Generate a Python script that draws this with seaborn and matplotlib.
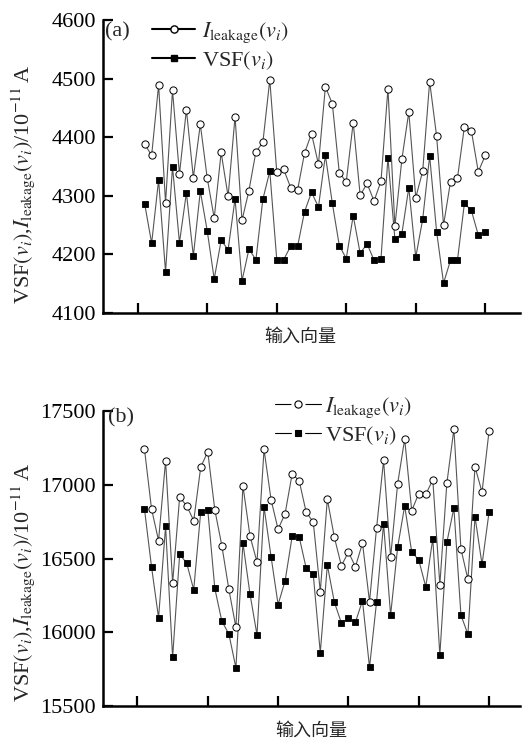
import matplotlib
matplotlib.use("Agg")
import matplotlib.pyplot as plt
from matplotlib.lines import Line2D
from matplotlib.legend_handler import HandlerTuple
import seaborn as sns
import pandas as pd

# ---------------- data ----------------
x_vals = list(range(1, 51))
x_ticks = [0, 10, 20, 30, 40, 50]

ileak_a = [4388, 4369, 4489, 4288, 4480, 4337, 4447, 4331, 4422, 4330,
           4262, 4374, 4299, 4435, 4258, 4309, 4375, 4391, 4498, 4341,
           4345, 4314, 4310, 4373, 4406, 4354, 4486, 4457, 4339, 4324,
           4425, 4301, 4321, 4291, 4325, 4483, 4248, 4362, 4443, 4297,
           4342, 4495, 4402, 4250, 4324, 4330, 4418, 4411, 4341, 4369]
vsf_a = [4286, 4219, 4327, 4170, 4350, 4220, 4305, 4197, 4308, 4240,
         4158, 4224, 4208, 4295, 4155, 4209, 4191, 4294, 4342, 4191,
         4191, 4214, 4214, 4273, 4306, 4281, 4369, 4287, 4215, 4193,
         4266, 4202, 4218, 4190, 4193, 4365, 4226, 4235, 4314, 4195,
         4260, 4368, 4239, 4151, 4190, 4190, 4287, 4275, 4233, 4239]

ileak_b = [17240, 16837, 16621, 17163, 16335, 16916, 16857, 16757, 17120, 17224,
           16830, 16587, 16290, 16034, 16993, 16653, 16476, 17240, 16898, 16698,
           16805, 17075, 17027, 16812, 16748, 16276, 16902, 16644, 16451, 16544,
           16444, 16605, 16208, 16705, 17165, 16508, 17007, 17310, 16825, 16939,
           16934, 17034, 16322, 17011, 17378, 16565, 16358, 17122, 16950, 17365]
vsf_b = [16834, 16444, 16097, 16718, 15830, 16528, 16469, 16288, 16818, 16830,
         16297, 16075, 15988, 15759, 16605, 16260, 15982, 16850, 16512, 16188,
         16349, 16650, 16646, 16433, 16392, 15861, 16456, 16204, 16063, 16095,
         16068, 16215, 15762, 16204, 16735, 16116, 16576, 16857, 16544, 16490,
         16308, 16635, 15844, 16610, 16843, 16116, 15986, 16784, 16460, 16814]

yticks_a = [4100, 4200, 4300, 4400, 4500, 4600]
yticks_b = [15500, 16000, 16500, 17000, 17500]

label_ileak = r"$I_{\mathrm{leakage}}(v_i)$"
label_vsf = r"VSF$(v_i)$"
ylabel = r"VSF$(v_i)$,$I_{\mathrm{leakage}}(v_i)$/10$^{-11}\,$A"
xlabel = "输入向量"
panel_a = "(a)"
panel_b = "(b)"

# ---------------- style ----------------
sns.set_style("ticks")
plt.rcParams["font.family"] = ["Liberation Serif", "Noto Sans CJK SC"]
plt.rcParams["mathtext.fontset"] = "stix"
plt.rcParams["font.size"] = 16

fig = plt.figure(figsize=(5.28, 7.44), dpi=100)
W, H = 528, 744
ax_a = fig.add_axes([103 / W, 1 - 313 / H, 417 / W, 293 / H])
ax_b = fig.add_axes([103 / W, 1 - 706 / H, 417 / W, 295 / H])

line_col = "#555555"
MS_O, MS_S = 5.2, 4.6


def draw(ax, ileak, vsf, ylim, yticks, xlim):
    df = pd.DataFrame({"x": x_vals, "ileak": ileak, "vsf": vsf})
    sns.lineplot(data=df, x="x", y="vsf", ax=ax, color=line_col, lw=0.8,
                 marker="s", markersize=MS_S, markerfacecolor="black",
                 markeredgecolor="black", markeredgewidth=0.6,
                 estimator=None, sort=False)
    sns.lineplot(data=df, x="x", y="ileak", ax=ax, color=line_col, lw=0.8,
                 marker="o", markersize=MS_O, markerfacecolor="white",
                 markeredgecolor="black", markeredgewidth=0.7,
                 estimator=None, sort=False)
    ax.set_xlim(*xlim)
    ax.set_ylim(*ylim)
    ax.set_yticks(yticks)
    ax.set_xticks(x_ticks)
    ax.set_xticklabels([])
    ax.tick_params(axis="both", direction="in", length=7, width=1.6,
                   labelsize=16, pad=5, colors="black")
    for s in ["top", "right"]:
        ax.spines[s].set_visible(False)
    for s in ["left", "bottom"]:
        ax.spines[s].set_linewidth(1.8)
        ax.spines[s].set_color("black")
    ax.set_ylabel(ylabel, fontsize=16)
    ax.set_xlabel(xlabel, fontsize=13, family=["Noto Sans CJK SC"])


draw(ax_a, ileak_a, vsf_a, (4100, 4600), yticks_a, (-5, 55))
draw(ax_b, ileak_b, vsf_b, (15500, 17500), yticks_b, (-4.9, 54.4))

ax_a.yaxis.set_label_coords(-0.158, 0.44)
ax_b.yaxis.set_label_coords(-0.158, 0.42)
ax_a.xaxis.set_label_coords(0.472, -0.051)
ax_b.xaxis.set_label_coords(0.50, -0.054)

ax_a.text(0.005, 0.959, panel_a, transform=ax_a.transAxes, ha="left",
          va="center", fontsize=16)
ax_b.text(0.012, 0.976, panel_b, transform=ax_b.transAxes, ha="left",
          va="center", fontsize=16)

# legends
h_a = [Line2D([], [], color="black", lw=1.5, marker="o", markersize=MS_O,
              markerfacecolor="white", markeredgecolor="black"),
       Line2D([], [], color="black", lw=1.5, marker="s", markersize=MS_S,
              markerfacecolor="black", markeredgecolor="black")]
ax_a.legend(h_a, [label_ileak, label_vsf], loc="center left",
            bbox_to_anchor=(152 / W, 1 - 46 / H), bbox_transform=fig.transFigure,
            frameon=False, handlelength=1.95, handletextpad=0.3,
            labelspacing=0.2, borderpad=0, borderaxespad=0, fontsize=16)


def gap_handle(marker, ms, fc):
    base = Line2D([], [], color="black", lw=0.8)
    gap = Line2D([], [], ls="none", marker=marker, markersize=ms + 4,
                 markerfacecolor="white", markeredgecolor="white")
    mk = Line2D([], [], ls="none", marker=marker, markersize=ms,
                markerfacecolor=fc, markeredgecolor="black", markeredgewidth=0.8)
    return (base, gap, mk)


h_b = [gap_handle("o", MS_O, "white"), gap_handle("s", MS_S, "black")]
ax_b.legend(h_b, [label_ileak, label_vsf], loc="center left",
            bbox_to_anchor=(275 / W, 1 - 421 / H), bbox_transform=fig.transFigure,
            frameon=False, handlelength=2.05, handletextpad=0.2,
            labelspacing=0.2, borderpad=0, borderaxespad=0, fontsize=16,
            handler_map={tuple: HandlerTuple(ndivide=1, pad=0)})

fig.savefig("out.png", dpi=100)
